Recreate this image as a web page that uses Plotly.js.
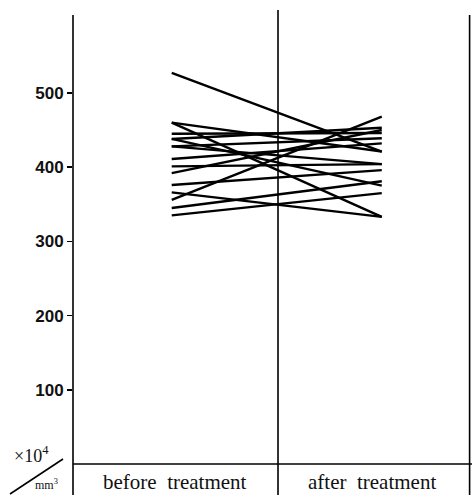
<!DOCTYPE html>
<html>
<head>
<meta charset="utf-8">
<script src="https://cdn.plot.ly/plotly-3.0.1.min.js"></script>
<style>html,body{margin:0;padding:0;background:#fff;}#chart{width:472px;height:495px;}</style>
</head>
<body>
<div id="chart"></div>
<script>
// Phases (x positions 0 = before, 1 = after)
const phaseX = [0, 1];
const phaseLabels = ["before  treatment", "after  treatment"];
// Each patient: value before and after treatment (x10^4 / mm^3)
const beforeVals = [527, 460, 460, 445, 438, 428, 411, 401, 392, 376, 366, 356, 345, 335, 438, 428];
const afterVals  = [421, 421, 333, 446, 453, 439, 432, 404, 450, 396, 333, 468, 381, 365, 375, 404];
const yTickVals = [100, 200, 300, 400, 500];
const yTickText = ["100", "200", "300", "400", "500"];

const traces = beforeVals.map((b, i) => ({
  x: phaseX,
  y: [b, afterVals[i]],
  type: "scatter",
  mode: "lines",
  line: {color: "#000", width: 2.4},
  hoverinfo: "skip",
  showlegend: false
}));

const lineStyle = {color: "#000", width: 1.6};
const serif = "Liberation Serif, Times New Roman, serif";
const layout = {
  width: 472, height: 495,
  margin: {l: 73, r: 2, t: 15, b: 31, pad: 0},
  paper_bgcolor: "#fff", plot_bgcolor: "#fff",
  showlegend: false,
  xaxis: {range: [-0.470, 1.420], showgrid: false, zeroline: false, showline: false,
          showticklabels: false, ticks: "", fixedrange: true},
  yaxis: {range: [0, 605], showgrid: false, zeroline: false, showline: false,
          tickvals: yTickVals, ticktext: yTickText, ticks: "outside", ticklen: 5,
          tickwidth: 1.5, tickcolor: "#000",
          tickfont: {family: "Liberation Sans, Arial, sans-serif", size: 17, color: "#111", weight: "bold"},
          fixedrange: true},
  shapes: [
    {type: "line", xref: "paper", yref: "paper", x0: 0, x1: 0, y0: -0.07, y1: 1, line: lineStyle},
    {type: "line", xref: "paper", yref: "paper", x0: 0.5164, x1: 0.5164, y0: -0.07, y1: 1.011, line: lineStyle},
    {type: "line", xref: "paper", yref: "paper", x0: 0.999, x1: 0.999, y0: -0.07, y1: 1, line: lineStyle},
    {type: "line", xref: "paper", yref: "paper", x0: 0, x1: 1.005, y0: 0, y1: 0, line: lineStyle},
    {type: "line", xref: "paper", yref: "paper", x0: -0.1587, x1: -0.0252, y0: -0.0668, y1: 0.0111, line: lineStyle}
  ],
  annotations: [
    {xref: "paper", yref: "paper", x: 0.257, y: -0.039, xanchor: "center", yanchor: "middle", showarrow: false,
     text: phaseLabels[0], font: {family: serif, size: 21, color: "#111"}},
    {xref: "paper", yref: "paper", x: 0.753, y: -0.039, xanchor: "center", yanchor: "middle", showarrow: false,
     text: phaseLabels[1], font: {family: serif, size: 21, color: "#111"}},
    {xref: "paper", yref: "paper", x: -0.105, y: 0.022, xanchor: "center", yanchor: "middle", showarrow: false,
     text: "×10<sup>4</sup>", font: {family: serif, size: 18, color: "#111"}},
    {xref: "paper", yref: "paper", x: -0.066, y: -0.046, xanchor: "center", yanchor: "middle", showarrow: false,
     text: "mm<sup>3</sup>", font: {family: serif, size: 12, color: "#111"}}
  ]
};

Plotly.newPlot("chart", traces, layout, {staticPlot: true, displayModeBar: false});
</script>
</body>
</html>
